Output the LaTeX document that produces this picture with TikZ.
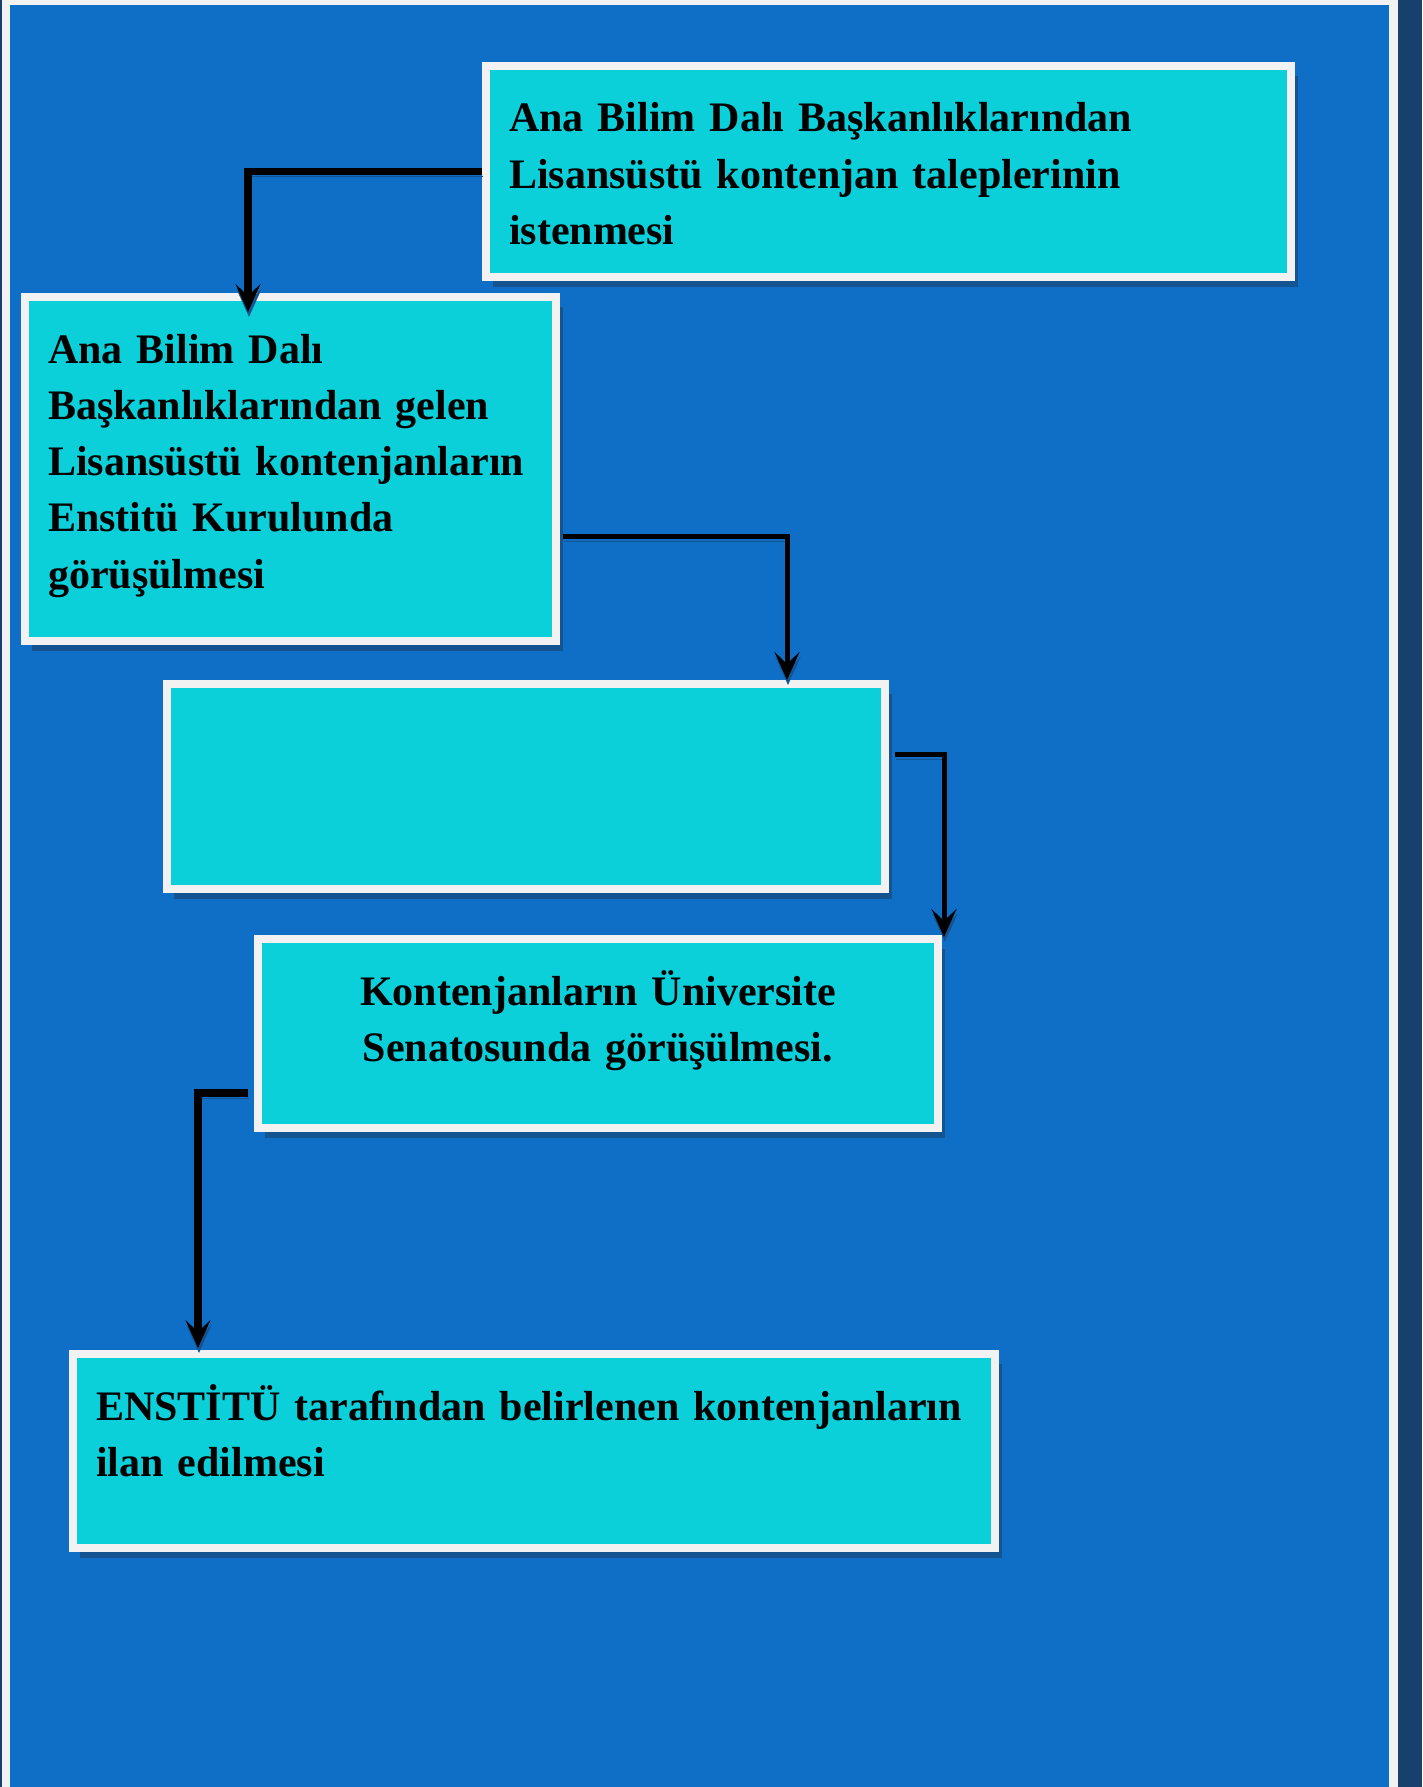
\documentclass[tikz,border=0pt]{standalone}
\usepackage{fontspec}
\setmainfont{Liberation Serif}
\usetikzlibrary{arrows.meta,shadows}
\definecolor{zemin}{RGB}{15,111,198}
\definecolor{kutudolgu}{RGB}{11,208,217}
\definecolor{kenar}{RGB}{242,242,242}
\definecolor{lacivert}{RGB}{23,64,109}
\definecolor{golge}{RGB}{20,84,145}
\tikzset{
    kutu/.style = {draw=kenar, fill=kutudolgu, line width=8pt, anchor=north west,
                   inner xsep=23pt, inner ysep=0pt, text height=66pt, align=left,
                   font=\bfseries\fontsize{42pt}{56.3pt}\selectfont,
                   drop shadow={shadow xshift=7pt, shadow yshift=-10pt, fill=golge, opacity=1}},
    ok/.style    = {line width=7.5pt, -{Stealth[length=28pt, width=25pt, inset=12pt]},
                   preaction={draw=golge, transform canvas={shift={(1pt,-5pt)}}}},
    ince/.style  = {ok, line width=5pt}
}
\begin{document}
\begin{tikzpicture}[x = 1pt, y = -1pt]
                \fill [lacivert] (0,0)  rectangle (1422,1787);
                \fill [kenar]    (2,0)  rectangle (1398,1787);
                \fill [zemin]    (10,5) rectangle (1389,1787);
                \useasboundingbox (0,0) rectangle (1422,1787);

                \node [kutu, text width=759pt, text depth=145pt] (talep)  at (482,62)
                    {Ana Bilim Dalı Başkanlıklarından\\Lisansüstü kontenjan taleplerinin\\istenmesi};
                \node [kutu, text width=485pt, text depth=278pt] (kurul)  at (21,293)
                    {Ana Bilim Dalı\\Başkanlıklarından gelen\\\mbox{Lisansüstü kontenjanların}\\Enstitü Kurulunda\\görüşülmesi};
                \node [kutu, text width=672pt, text depth=139pt] (ara)    at (163,680) {};
                \node [kutu, text width=634pt, text depth=123pt, align=center] (senato) at (254,935)
                    {Kontenjanların Üniversite\\Senatosunda görüşülmesi.};
                \node [kutu, text width=876pt, text depth=128pt] (ilan)   at (69,1350)
                    {\mbox{ENSTİTÜ tarafından belirlenen kontenjanların}\\ilan edilmesi};

                \draw [ok]   (talep.west) -| ([shift={(227,19)}]kurul.north west);
                \draw [ince] ([shift={(3,67)}]kurul.east) -| ([xshift=624pt]ara.north west);
                \draw [ince] ([shift={(6,-32.5)}]ara.east) -| ([shift={(2,2)}]senato.north east);
                \draw [ok]   ([shift={(-6,59.5)}]senato.west) -| ([shift={(129,-2)}]ilan.north west);
            \end{tikzpicture}
\end{document}
